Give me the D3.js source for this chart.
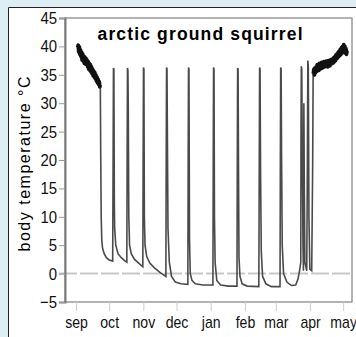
<!DOCTYPE html>
<html>
<head>
<meta charset="utf-8">
<script src="https://cdn.jsdelivr.net/npm/d3@7"></script>
<style>
  body { margin: 0; background: #ddeef4; }
  svg { display: block; font-family: "Liberation Sans", Arial, sans-serif; }
</style>
</head>
<body>
<div id="chart-area"></div>
<script>
// x values are days counted from 1 September
var monthDays = [0, 30, 61, 91, 122, 153, 181, 212, 242];
var monthLabels = ["sep", "oct", "nov", "dec", "jan", "feb", "mar", "apr", "may"];
var yTicks = [-5, 0, 5, 10, 15, 20, 25, 30, 35, 40, 45];

// euthermic body temperature before hibernation
var autumn = [[1.5,39.8],[2,40.2],[2.5,39],[3,39.9],[3.5,38.6],[4,39.4],[4.5,38.2],[5,39],[5.5,37.6],[6,38.7],
  [6.5,37.4],[7,38.3],[7.5,37],[8,38.1],[8.5,36.9],[9,37.9],[9.5,36.8],[10,37.6],[10.5,36.4],[11,37.3],
  [11.5,36],[12,37],[12.5,35.8],[13,36.8],[13.5,35.5],[14,36.4],[14.5,35.2],[15,36],[15.5,34.8],[16,35.7],
  [16.5,34.6],[17,35.4],[17.5,34.3],[18,35],[18.5,33.9],[19,34.6],[19.5,33.6],[20,34.2],[20.5,33.3],[21,33.8],
  [21.5,32.9],[22,33.2]];

// torpor bouts and arousals
var hibernation = [[22,33],[22.4,20],[22.8,10],[23.3,6],[24,4.5],[25.5,3.5],[27.5,2.8],[30,2.4],[33.2,2.2],
  [33.6,20],[33.9,36.2],[34.3,36],[34.7,12],[35,8],[36,5],[38,3.5],[41,2.8],[44,2.3],[46,2],
  [46.3,20],[46.6,36.2],[47,35.8],[47.3,30],[47.8,10],[48.5,5],[50,3.5],[53,2.5],[57,1.8],[60.5,1.2],
  [60.8,20],[61.1,36.3],[61.5,36],[61.9,10],[62.5,5],[64,3],[67,1.8],[71,1],[76,0.2],[81.4,-0.5],
  [81.7,20],[82,36.3],[82.4,36],[82.8,23],[83.3,8],[84.5,2],[86.5,-0.5],[90,-1.5],[95,-1.8],[101.3,-1.9],
  [101.6,20],[101.9,36.3],[102.3,36],[102.8,6],[103.5,0],[105,-1.2],[108,-1.8],[115,-2],[124,-2],
  [124.3,20],[124.6,36.3],[125,36],[125.4,10],[126,2],[127.5,-1.2],[131,-2],[138,-2.2],[145.8,-2.2],
  [146.1,20],[146.4,36.2],[146.8,36],[147.2,18],[147.6,3],[148.5,-0.5],[150.5,-1.8],[155,-2.2],[165.6,-2.3],
  [166,20],[166.3,36.3],[166.7,36],[167.2,17],[167.8,4],[169,-0.5],[172,-1.8],[177,-2.3],[184.8,-2.3],
  [185.1,20],[185.4,36.3],[185.8,36],[186.2,20.5],[186.8,5],[188,0],[191,-1.5],[195,-2.1],[199,-2],[201,-1],[202.5,0.5],[203.6,2],
  [203.8,25],[204.1,36.5],[204.5,36],[205,20],[205.6,5],[206,0.5],[206.4,30],[206.8,15],[207.3,2],[209,0.5],
  [209.6,20],[210,37.5],[210.4,36.5],[211,10],[211.8,0.8],[213.5,0.5],[214.4,20],[214.8,35.5]];

// euthermic body temperature after hibernation
var spring = [[215,35.2],[215.5,36],[216,35],[216.5,36.2],[217,35.4],[217.5,36.4],[218,35.6],[218.5,36.8],[219,35.9],[219.5,36.6],
  [220,35.8],[220.5,37],[221,36],[221.5,36.9],[222,36.1],[222.5,37.2],[223,36.2],[223.5,37],[224,36.3],[224.5,37.3],
  [225,36.4],[225.5,37.1],[226,36.5],[226.5,37.4],[227,36.6],[227.5,37.2],[228,36.4],[228.5,37.5],[229,36.7],[229.5,37.3],
  [230,36.6],[230.5,37.6],[231,36.9],[231.5,37.7],[232,37],[232.5,37.8],[233,37.1],[233.5,38],[234,37.3],[234.5,38.2],
  [235,37.5],[235.5,38.5],[236,37.8],[236.5,38.7],[237,38],[237.5,39],[238,38.2],[238.5,39.2],[239,38.4],[239.5,39.5],
  [240,38.6],[240.5,39.8],[241,38.8],[241.5,40],[242,39],[242.5,40.3],[243,39.2],[243.5,40],[244,38.8],[244.5,39.6],
  [245,38.6],[245.5,39.3]];

var W = 356, H = 337;
var svg = d3.select("#chart-area").append("svg")
    .attr("width", W)
    .attr("height", H);

// white panel with black top/left border
svg.append("rect").attr("x", 8).attr("y", 7).attr("width", W - 8).attr("height", H - 7).attr("fill", "white");
svg.append("path").attr("d", "M8.5," + H + "V7.5H" + W).attr("fill", "none").attr("stroke", "#222").attr("stroke-width", 1);

var plotL = 65, plotR = 352, plotT = 18, plotB = 302;

var x = d3.scaleLinear().domain([-10, 250]).range([plotL, plotR]);
var y = d3.scaleLinear().domain([-5, 45]).range([plotB, plotT]);

// zero line
svg.append("line")
    .attr("x1", plotL - 6).attr("x2", plotR)
    .attr("y1", y(0)).attr("y2", y(0))
    .attr("stroke", "#c8c8c8")
    .attr("stroke-width", 2)
    .attr("stroke-dasharray", "18,3");

var line = d3.line().x(function(d) { return x(d[0]); }).y(function(d) { return y(d[1]); });

svg.append("path").datum(hibernation)
    .attr("d", line)
    .attr("fill", "none")
    .attr("stroke", "#4a4a4a")
    .attr("stroke-width", 1.6);

[autumn, spring].forEach(function(s) {
  svg.append("path").datum(s)
      .attr("d", line)
      .attr("fill", "none")
      .attr("stroke", "#111")
      .attr("stroke-width", 3.8)
      .attr("stroke-linejoin", "round");
});

// frame
svg.append("rect")
    .attr("x", plotL).attr("y", plotT)
    .attr("width", plotR - plotL).attr("height", plotB - plotT)
    .attr("fill", "none")
    .attr("stroke", "#9a9a9a")
    .attr("stroke-width", 1.5);

var yAxis = svg.append("g")
    .attr("transform", "translate(" + plotL + ",0)")
    .call(d3.axisLeft(y).tickValues(yTicks).tickSize(6).tickPadding(3));
yAxis.select(".domain").attr("stroke", "#7a7a7a").attr("stroke-width", 2);
yAxis.selectAll(".tick line").attr("stroke", "#999");
yAxis.selectAll("text")
    .attr("font-size", "17px")
    .attr("fill", "#111")
    .attr("font-family", "Liberation Sans, Arial, sans-serif")
    .attr("transform", "scale(0.88,1)");

var xAxis = svg.append("g")
    .attr("transform", "translate(0," + plotB + ")")
    .call(d3.axisBottom(x).tickValues(monthDays).tickFormat(function(d, i) { return monthLabels[i]; }).tickSize(9).tickPadding(6));
xAxis.select(".domain").remove();
xAxis.selectAll(".tick line").attr("stroke", "#ccc");
xAxis.selectAll("text")
    .attr("font-size", "16px")
    .attr("fill", "#111")
    .attr("font-family", "Liberation Sans, Arial, sans-serif")
    .attr("transform", "scale(0.88,1)");

svg.append("text")
    .attr("x", 200).attr("y", 40)
    .attr("text-anchor", "middle")
    .attr("font-size", "17.5px")
    .attr("font-weight", "bold")
    .attr("textLength", 205)
    .attr("lengthAdjust", "spacing")
    .text("arctic ground squirrel");

svg.append("text")
    .attr("transform", "translate(30,164) rotate(-90)")
    .attr("text-anchor", "middle")
    .attr("font-size", "16px")
    .attr("textLength", 175)
    .attr("lengthAdjust", "spacing")
    .text("body temperature °C");
</script>
</body>
</html>
